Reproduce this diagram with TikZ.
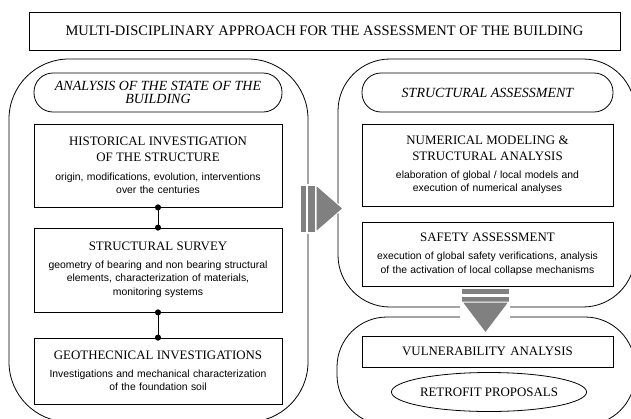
\documentclass[tikz,border=0pt]{standalone}
\usepackage{fontspec}
\setmainfont{Liberation Serif}
\setsansfont{Liberation Sans}
\usetikzlibrary{shapes.geometric, arrows.meta}
\newcommand{\hd}{\fontsize{12.9}{16}\selectfont}
\newcommand{\bd}{\sffamily\fontsize{10.4}{13.5}\selectfont}

\begin{document}
\begin{tikzpicture}[x=1pt,y=-1pt,line width=.8pt,
  box/.style={draw,text width=240pt,align=center,inner sep=4pt,minimum height=#1},
  tag/.style={draw,rounded corners=19pt,minimum width=#1,minimum height=39pt,align=center,
    inner sep=2pt,font=\itshape\fontsize{14}{13.5}\selectfont},
  frame/.style={draw,rounded corners=#1},
  bar/.style={fill=gray},
  dot/.style={{Circle[length=6pt]}-{Circle[length=6pt]},shorten <=-3pt,shorten >=-3pt}]
\clip(0,0) rectangle (631,418);
\node[draw,minimum width=591pt,minimum height=38pt,font=\fontsize{14.5}{16}\selectfont](T) at (324.5,31){MULTI-DISCIPLINARY APPROACH FOR THE ASSESSMENT OF THE BUILDING};
% left column
\draw[frame=60pt](9,59) rectangle (308,422);
\node[tag=248pt](L0) at (158,92.5){ANALYSIS OF THE STATE OF THE\\BUILDING};
\node[box=83pt](L1) at (158,165.5){{\hd HISTORICAL INVESTIGATION\\OF THE STRUCTURE\par}\vspace{5pt}
  {\bd origin, modifications, evolution, interventions\\over the centuries\par}};
\node[box=84pt](L2) at (158,270){{\hd STRUCTURAL SURVEY\par}\vspace{4pt}
  {\bd geometry of bearing and non bearing structural\\elements, characterization of materials,\\monitoring systems\par}};
\node[box=66pt](L3) at (158,371){{\hd GEOTHECNICAL INVESTIGATIONS\par}\vspace{4pt}
  {\bd Investigations and mechanical characterization\\of the foundation soil\par}};
\draw[dot](L1)--(L2);
\draw[dot](L2)--(L3);
% right column
\draw[frame=52pt](338,59) rectangle (635,307);
\draw[frame=50pt](337,317) rectangle (635,425);
\node[tag=251pt](R0) at (487.5,92.5){STRUCTURAL ASSESSMENT};
\node[box=82pt,text width=243pt](R1) at (487.5,165){{\hd NUMERICAL MODELING \&\\STRUCTURAL ANALYSIS\par}\vspace{4pt}
  {\bd elaboration of global / local models and\\execution of numerical analyses\par}};
\node[box=64pt,text width=243pt](R2) at (487.5,254){{\hd SAFETY ASSESSMENT\par}\vspace{5pt}
  {\bd execution of global safety verifications, analysis\\of the activation of local collapse mechanisms\par}};
\node[box=31pt,text width=243pt,font=\hd](V) at (487.5,351.5){VULNERABILITY ANALYSIS};
\node[draw,ellipse,minimum width=178pt,minimum height=39pt,inner sep=0pt,font=\hd](P) at (489,392){RETROFIT PROPOSALS};
% big arrows
\fill[white](299,184) rectangle (317,234);
\fill[bar](301,186) rectangle (306,232);
\fill[bar](308,186) rectangle (315,232);
\filldraw[bar,draw=white,line width=1pt](316,185)--(343,208.5)--(316,232)--cycle;
\fill[white](460,287) rectangle (510,320);
\fill[bar](462,289) rectangle (509,294);
\fill[bar](462,297) rectangle (509,302);
\filldraw[bar,draw=white,line width=1pt](462,302)--(509,302)--(485.5,333)--cycle;
\end{tikzpicture}
\end{document}
